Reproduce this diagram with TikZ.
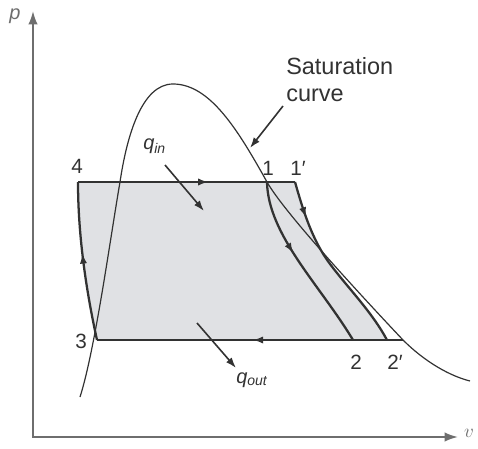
\documentclass[tikz,border=0pt]{standalone}
\usepackage{fontspec}
\setmainfont{Liberation Sans}
\usetikzlibrary{arrows.meta,decorations.markings}
\definecolor{shadec}{RGB}{224,225,228}
\definecolor{inkc}{RGB}{50,50,50}
\definecolor{axisc}{RGB}{110,110,110}
\tikzset{
  cyc/.style={line width=1.7pt, draw=inkc, line join=round},
  satc/.style={line width=0.9pt, draw=inkc},
  axisline/.style={line width=1.4pt, draw=axisc},
  midarrow/.style={postaction={decorate}, decoration={markings, mark=at position #1 with {\arrow{Latex[length=7.5pt,width=5.5pt]}}}},
  lbl/.style={font=\fontsize{15.5}{18}\selectfont, text=inkc, inner sep=0pt},
  qlbl/.style={font=\fontsize{15}{18}\selectfont\itshape, text=inkc, inner sep=0pt, anchor=base west},
  satlbl/.style={font=\fontsize{17.6}{20}\selectfont, text=inkc, inner sep=0pt, anchor=base west},
  ptr/.style={line width=1.2pt, draw=inkc, -{Latex[length=8pt,width=5.5pt]}},
}
\begin{document}
\begin{tikzpicture}[x=0.75pt,y=-0.75pt]
\useasboundingbox (0,0) rectangle (478,449);
% key points
\coordinate (P4) at (78,182);
\coordinate (P1) at (267,182);
\coordinate (P1p) at (295,182);
\coordinate (M1p) at (330,264);
\coordinate (P3) at (97,340);
\coordinate (P2) at (353,340);
\coordinate (P2p) at (387,340);
\coordinate (S2p) at (403,340);
\coordinate (O) at (33,437);
\coordinate (Ytop) at (33,11);
\coordinate (Xend) at (458,437);
\coordinate (Sbot) at (80,397);
\coordinate (Sx) at (120,182);
\coordinate (Stop) at (173,84);
\coordinate (Send) at (470,381);
% shaded area
\fill[shadec] (P3) .. controls (86,290) and (78,235) .. (P4) -- (P1p)
  .. controls (303,210) and (312,240) .. (M1p)
  .. controls (348,288) and (372,312) .. (P2p)
  -- (S2p) -- cycle;
% axes
\draw[axisline, {Latex[length=10pt,width=7pt]}-{Latex[length=10pt,width=7pt]}] (Ytop) -- (O) -- (Xend);
\node[font=\fontsize{15}{18}\selectfont\itshape, text=axisc, inner sep=0pt] (plbl) at (15,16) {p};
\node[font=\fontsize{15}{18}\selectfont, text=axisc, inner sep=0pt] (vlbl) at (469,433) {$v$};
% saturation curve
\draw[satc] (Sbot) .. controls (95,350) and (110,240) .. (Sx)
  .. controls (127,135) and (142,84) .. (Stop)
  .. controls (210,84) and (238,130) .. (P1)
  .. controls (285,214) and (370,305) .. (S2p)
  .. controls (425,362) and (450,376) .. (Send);
% cycle
\draw[cyc, midarrow=0.6] (P4) -- (P1p);
\draw[cyc, midarrow=0.2] (P1p) .. controls (303,210) and (312,240) .. (M1p)
  .. controls (348,288) and (372,312) .. (P2p);
\draw[cyc, midarrow=0.42] (P1) .. controls (268,235) and (320,285) .. (P2);
\draw[cyc, midarrow=0.49] (S2p) -- (P3);
\draw[cyc, midarrow=0.55] (P3) .. controls (86,290) and (78,235) .. (P4);
% point labels
\node[lbl] (l4) at (77,166) {4};
\node[lbl] (l1) at (268,168) {1};
\node[lbl] (l1p) at (298,168) {1′};
\node[lbl] (l3) at (81,341) {3};
\node[lbl] (l2) at (356,362) {2};
\node[lbl] (l2p) at (395,362) {2′};
% heat labels
\node[qlbl] (qin) at (143,150) {q\textsubscript{in}};
\coordinate (qinA) at (165,165);
\coordinate (qinB) at (204,211);
\draw[ptr] (qinA) -- (qinB);
\node[qlbl] (qout) at (236,383) {q\textsubscript{out}};
\coordinate (qoutA) at (197,323);
\coordinate (qoutB) at (236,368);
\draw[ptr] (qoutA) -- (qoutB);
% saturation label
\node[satlbl] (sat1) at (286,75) {Saturation};
\node[satlbl] (sat2) at (286,102) {curve};
\coordinate (satA) at (283,106);
\coordinate (satB) at (250,148);
\draw[ptr] (satA) -- (satB);
\end{tikzpicture}
\end{document}
